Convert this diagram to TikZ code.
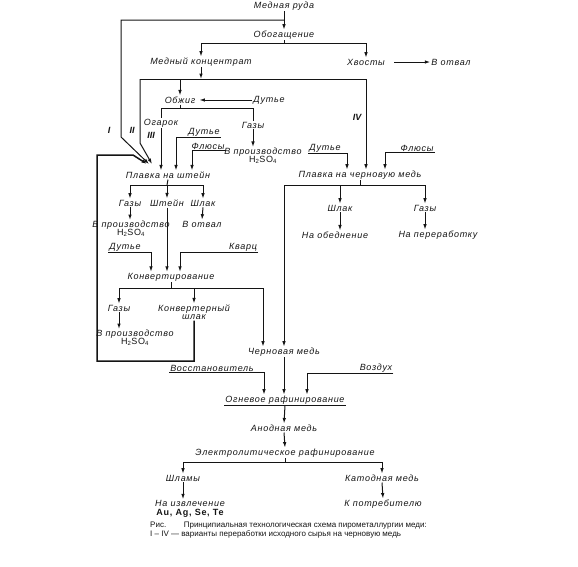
\documentclass[tikz,border=0pt]{standalone}
\usepackage{fontspec}
\setmainfont{Liberation Sans}
\newfontfamily\drawfont[LetterSpace=8]{Liberation Sans}
\usetikzlibrary{arrows.meta,positioning,calc}
\definecolor{ink}{RGB}{20,20,20}
\newcommand{\labfont}{\drawfont\itshape\fontsize{9}{10}\selectfont}
\newcommand{\capfont}{\fontsize{8}{9}\selectfont}
\newcommand{\acid}{{\upshape H\textsubscript{2}SO\textsubscript{4}}}
\tikzset{
  lab/.style={font=\labfont,text=ink,inner sep=1pt,align=center},
  rom/.style={font=\bfseries\itshape\fontsize{9}{9}\selectfont,text=ink,inner sep=0pt},
  arr/.style={-{Latex[length=5.5pt,width=3.6pt]},line width=1pt,draw=ink},
  ln/.style={line width=1pt,draw=ink},
}

\begin{document}
\begin{tikzpicture}[x=1pt,y=-1pt]
  \useasboundingbox (0,0) rectangle (578,566);
  % ore and beneficiation
  \node[lab] (ore) at (284,6) {Медная руда};
  \node[lab] (benef) at (284,35) {Обогащение};
  \node[lab] (conc) at (201,62) {Медный концентрат};
  \node[lab] (tail) at (366,62) {Хвосты};
  \node[lab] (dumpA) at (451,62) {В отвал};
  \coordinate (jI) at (284,20);
  \coordinate (bBen) at (284,43);
  \draw[arr] (ore) -- (benef);
  \draw[arr] (benef.south) -- (bBen) -| (conc.north);
  \draw[arr] (bBen) -| (tail.north);
  \draw[arr,shorten <=8pt] (tail) -- (dumpA);
  % roasting
  \node[lab] (roast) at (180,100) {Обжиг};
  \node[lab] (blastA) at (269,100) {Дутье};
  \node[lab] (cinder) at (161,123) {Огарок};
  \node[lab] (gasA) at (253,125) {Газы};
  \node[lab] (acidA) at (263,156) {В производство\\[-2pt]\acid};
  \coordinate (hub) at (201,79);
  \coordinate (hL) at (140,79);
  \coordinate (hR) at (366,79);
  \coordinate (bRo) at (180,108);
  \draw[arr] (conc.south) -- (hub);
  \draw[ln] (hL) -- (hR);
  \draw[arr] (roast.north |- hub) -- (roast.north);
  \draw[arr,shorten >=3pt] (blastA.west) -- (roast.east);
  \draw[ln] (roast.south) -- (bRo);
  \draw[ln] (bRo) -| (cinder.north);
  \draw[ln] (bRo) -| (gasA.north);
  \draw[arr] (gasA.south) -- (gasA.south |- acidA.north);
  % smelting
  \node[lab] (blastB) at (204,132) {Дутье};
  \node[lab] (fluxA) at (208,146) {Флюсы};
  \node[lab] (blastC) at (325,148) {Дутье};
  \node[lab] (fluxB) at (417,148) {Флюсы};
  \node[lab] (matteS) at (168,175) {Плавка на штейн};
  \node[lab] (blist) at (360,175) {Плавка на черновую медь};
  \node[rom] (rI) at (109,130) {I};
  \node[rom] (rII) at (132,130) {II};
  \node[rom] (rIII) at (151,135) {III};
  \node[rom] (rIV) at (357,117) {IV};
  \coordinate (kI) at (121,137);
  \coordinate (kII) at (140,143);
  \coordinate (mIn0) at (147,164);
  \coordinate (mIn1) at (149,164);
  \coordinate (mIn2) at (152,164);
  \draw[arr] (jI) -| (kI) -- (mIn1);
  \draw[arr] (hL) -- (kII) -- (mIn2);
  \draw[arr] (cinder.south) -- (cinder.south |- matteS.north);
  \draw[arr] (blastB.south east) -| ($(matteS.north)+(8,0)$);
  \draw[arr] (fluxA.south east) -| ($(matteS.north)+(24,0)$);
  \draw[arr] (blastC.south west) -| ($(blist.north)+(-13,0)$);
  \draw[arr] (fluxB.south east) -| ($(blist.north)+(25,0)$);
  \draw[arr] (hR) -- (hR |- blist.north);
  % matte smelting products
  \node[lab] (gasB) at (130,203) {Газы};
  \node[lab] (matte) at (167,203) {Штейн};
  \node[lab] (slagA) at (203,203) {Шлак};
  \node[lab] (acidB) at (131,229) {В производство\\[-2pt]\acid};
  \node[lab] (dumpB) at (202,224) {В отвал};
  \coordinate (bMS) at (167,185);
  \draw[ln] (matteS.south) -- (bMS);
  \draw[arr] (bMS) -| (gasB.north);
  \draw[arr] (bMS) -- (matte.north);
  \draw[arr] (bMS) -| (slagA.north);
  \draw[arr] (gasB.south) -- (gasB.south |- acidB.north);
  \draw[arr] (slagA.south) -- (dumpB.north);
  % converting
  \node[lab] (blastD) at (125,247) {Дутье};
  \node[lab] (quartz) at (243,247) {Кварц};
  \node[lab] (conv) at (171,277) {Конвертирование};
  \node[lab] (gasC) at (119,308) {Газы};
  \node[lab] (cslag) at (194,312) {Конвертерный\\[-2pt]шлак};
  \node[lab] (acidC) at (135,338) {В производство\\[-2pt]\acid};
  \coordinate (bCv) at (171,288);
  \coordinate (rA) at (194,361);
  \coordinate (rB) at (97,155);
  \coordinate (kR) at (133,155);
  \draw[arr] (matte.south) -- (matte.south |- conv.north);
  \draw[arr] (blastD.south west) -| ($(conv.north)+(-20,0)$);
  \draw[arr] (quartz.south east) -| ($(conv.north)+(9,0)$);
  \draw[ln] (conv.south) -- (bCv);
  \draw[arr] (bCv) -| (gasC.north);
  \draw[arr] (bCv) -| (cslag.north);
  \draw[arr] (gasC.south) -- (gasC.south |- acidC.north);
  \draw[arr,line width=1.5pt] (cslag.south) -- (rA) -| (rB) -- (kR) -- (mIn0);
  % blister copper smelting
  \node[lab] (slagB) at (340,208) {Шлак};
  \node[lab] (gasD) at (425,208) {Газы};
  \node[lab] (impov) at (335,235) {На обеднение};
  \node[lab] (procs) at (438,235) {На переработку};
  \coordinate (bBl) at (360,185);
  \draw[ln] (blist.south) -- (bBl);
  \draw[arr] (bBl) -| (slagB.north);
  \draw[arr] (bBl) -| (gasD.north);
  \draw[arr] (slagB.south) -- (slagB.south |- impov.north);
  \draw[arr] (gasD.south) -- (gasD.south |- procs.north);
  % refining
  \node[lab] (crude) at (284,352) {Черновая медь};
  \node[lab] (reduct) at (212,368) {Восстановитель};
  \node[lab] (air) at (376,368) {Воздух};
  \node[lab] (fire) at (285,400) {Огневое рафинирование};
  \node[lab] (anode) at (284,428) {Анодная медь};
  \node[lab] (electro) at (285,453) {Электролитическое рафинирование};
  \draw[arr] (bBl) -| (crude.north);
  \draw[arr] (bCv) -| ($(crude.north)+(-21,0)$);
  \draw[arr] (crude.south) -- (crude.south |- fire.north);
  \draw[arr] (reduct.south west) -| ($(fire.north)+(-21,0)$);
  \draw[arr] (air.south east) -| ($(fire.north)+(22,0)$);
  \draw[ln,line width=1.4pt] (fire.south west) -- (fire.south east);
  \draw[arr] (fire.south) -- (anode.north);
  \draw[arr] (anode.south) -- (electro.north);
  % electrolysis products
  \node[lab] (slime) at (183,478) {Шламы};
  \node[lab] (cath) at (382,478) {Катодная медь};
  \node[lab] (extr) at (190,509) {На извлечение\\[-1pt]{\upshape\bfseries Au, Ag, Se, Te}};
  \node[lab] (cons) at (383,504) {К потребителю};
  \coordinate (bEl) at (285,462);
  \draw[ln] (electro.south) -- (bEl);
  \draw[arr] (bEl) -| (slime.north);
  \draw[arr] (bEl) -| (cath.north);
  \draw[arr] (slime.south) -- (slime.south |- extr.north);
  \draw[arr] (cath.south) -- (cons.north);
  % caption
  \node[font=\capfont,text=ink,align=left,anchor=north west,inner sep=0pt] (capt) at (150,522)
    {Рис.\hspace{2.2em}Принципиальная технологическая схема пирометаллургии меди:\\
     I -- IV --- варианты переработки исходного сырья на черновую медь};
\end{tikzpicture}
\end{document}
